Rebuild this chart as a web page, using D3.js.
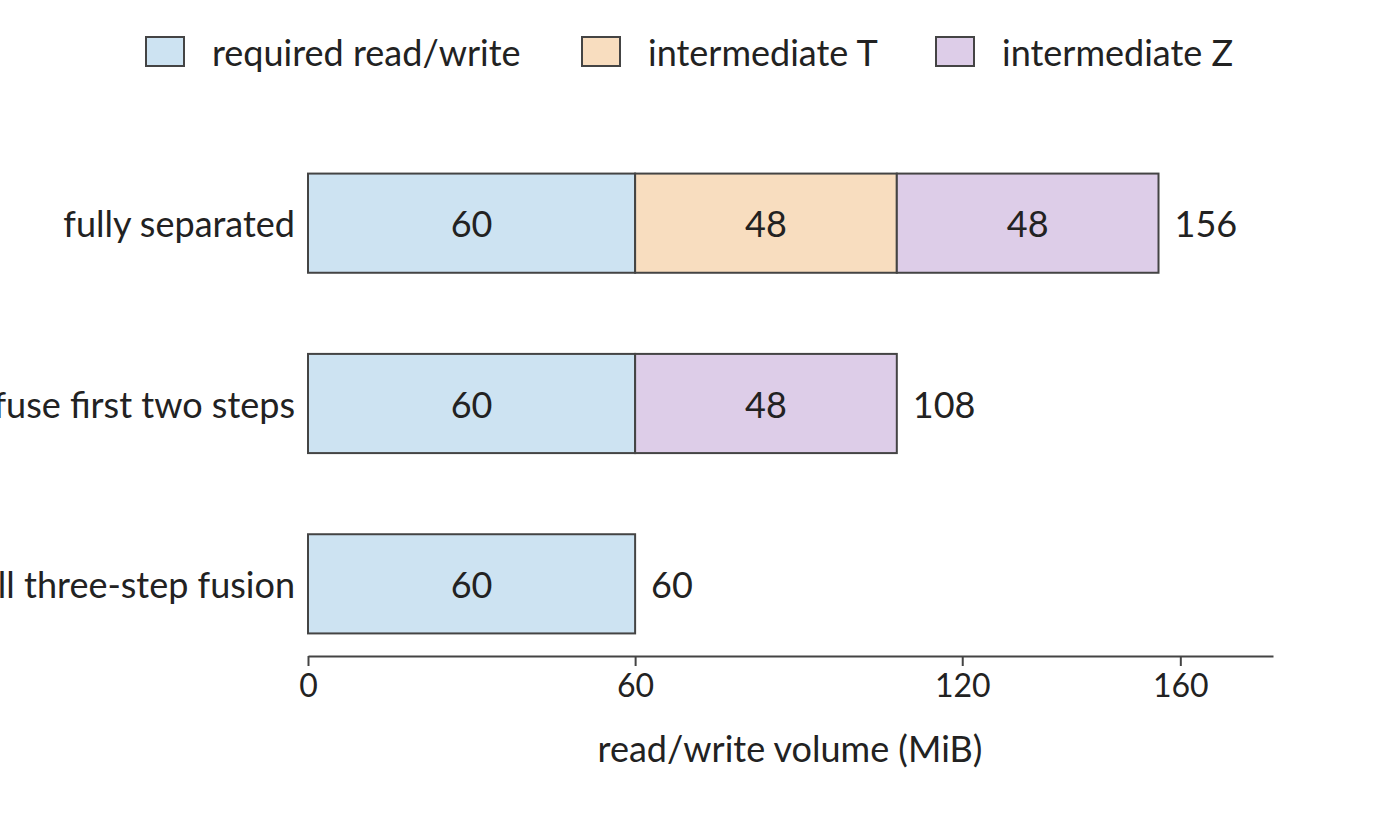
<!DOCTYPE html>
<html><head><meta charset="utf-8">
<script src="https://cdn.jsdelivr.net/npm/d3@7"></script>
<style>body{margin:0;background:#fff}</style></head>
<body><svg id="c" width="1400" height="840"></svg>
<script>
const categories = ["fully separated", "fuse first two steps", "full three-step fusion"];
const seriesNames = ["required read/write", "intermediate T", "intermediate Z"];
const requiredRW = [60, 60, 60];
const intermediateT = [48, 0, 0];
const intermediateZ = [48, 48, 0];
const tickValues = [0, 60, 120, 160];
const colors = ["#cde3f2", "#f8ddbf", "#ddcde8"];
const font = "Lato, 'Noto Sans', sans-serif";

const svg = d3.select("#c");
const x = d3.scaleLinear().domain([0, 177]).range([308, 1273]);
const y = d3.scaleBand().domain(categories).range([133, 674]).paddingInner(0.45).paddingOuter(0.225);

const series = [requiredRW, intermediateT, intermediateZ];
categories.forEach((c, i) => {
  let acc = 0;
  series.forEach((s, k) => {
    const v = s[i];
    if (!v) return;
    svg.append("rect").attr("x", x(acc)).attr("y", y(c)).attr("width", x(acc + v) - x(acc))
      .attr("height", y.bandwidth()).attr("fill", colors[k]).attr("stroke", "#444").attr("stroke-width", 2);
    svg.append("text").attr("x", (x(acc) + x(acc + v)) / 2).attr("y", y(c) + y.bandwidth() / 2)
      .attr("text-anchor", "middle").attr("dominant-baseline", "central")
      .attr("font-family", font).attr("font-size", 36).attr("fill", "#222").text(v);
    acc += v;
  });
  svg.append("text").attr("x", x(acc) + 16).attr("y", y(c) + y.bandwidth() / 2)
    .attr("dominant-baseline", "central").attr("font-family", font).attr("font-size", 36).attr("fill", "#222").text(acc);
  svg.append("text").attr("x", 295).attr("y", y(c) + y.bandwidth() / 2)
    .attr("text-anchor", "end").attr("dominant-baseline", "central")
    .attr("font-family", font).attr("font-size", 36).attr("fill", "#222").text(c);
});

const ax = svg.append("g").attr("transform", "translate(0,656)")
  .call(d3.axisBottom(x).tickValues(tickValues).tickSize(10).tickPadding(8).tickSizeOuter(0));
ax.select(".domain").attr("stroke", "#444").attr("stroke-width", 2);
ax.selectAll(".tick line").attr("stroke", "#444").attr("stroke-width", 2);
ax.selectAll("text").attr("font-family", font).attr("font-size", 32).attr("fill", "#222");
svg.append("text").attr("x", 790).attr("y", 762).attr("text-anchor", "middle")
  .attr("font-family", font).attr("font-size", 36).attr("fill", "#222").text("read/write volume (MiB)");

const lx = [146, 582, 936];
seriesNames.forEach((n, k) => {
  svg.append("rect").attr("x", lx[k]).attr("y", 37).attr("width", 38).attr("height", 29)
    .attr("fill", colors[k]).attr("stroke", "#444").attr("stroke-width", 2);
  svg.append("text").attr("x", lx[k] + 66).attr("y", 52).attr("dominant-baseline", "central")
    .attr("font-family", font).attr("font-size", 36).attr("fill", "#222").text(n);
});
</script></body></html>
